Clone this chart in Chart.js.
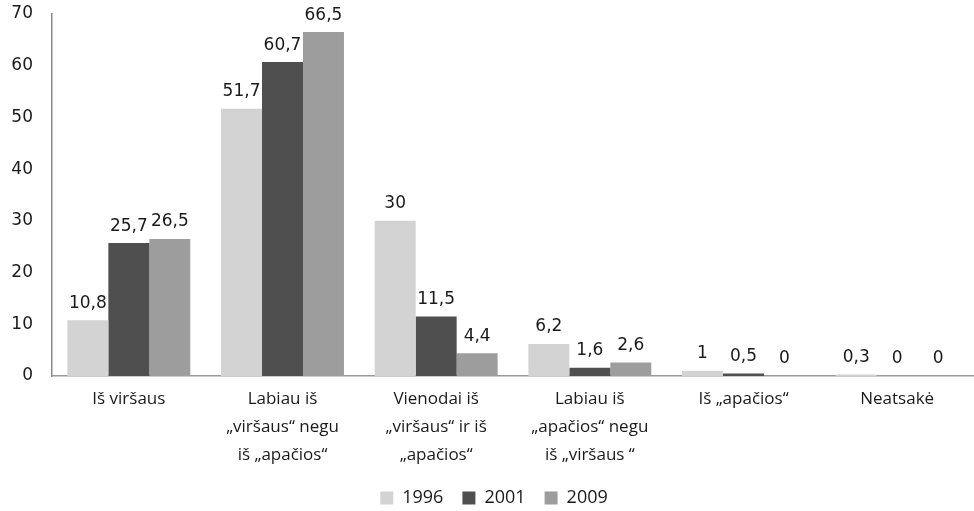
<!DOCTYPE html>
<html>
<head>
<meta charset="utf-8">
<script src="https://cdn.jsdelivr.net/npm/chart.js@4"></script>
<style>
  html, body { margin: 0; padding: 0; background: #fff; }
  #wrap { width: 974px; height: 511px; }
</style>
</head>
<body>
<div id="wrap"><canvas id="c" width="974" height="511"></canvas></div>
<script>
const categories = [
  ["Iš viršaus"],
  ["Labiau iš", "„viršaus“ negu", "iš „apačios“"],
  ["Vienodai iš", "„viršaus“ ir iš", "„apačios“"],
  ["Labiau iš", "„apačios“ negu", "iš „viršaus “"],
  ["Iš „apačios“"],
  ["Neatsakė"]
];
const seriesNames = ["1996", "2001", "2009"];
const values1996 = [10.8, 51.7, 30, 6.2, 1, 0.3];
const values2001 = [25.7, 60.7, 11.5, 1.6, 0.5, 0];
const values2009 = [26.5, 66.5, 4.4, 2.6, 0, 0];
const yTicks = [0, 10, 20, 30, 40, 50, 60, 70];

const colors = ["#d3d3d3", "#4f4f4f", "#9d9d9d"];

const valueLabels = {
  id: 'valueLabels',
  afterDatasetsDraw(chart) {
    const ctx = chart.ctx;
    ctx.save();
    ctx.font = '17px "DejaVu Sans", Verdana, sans-serif';
    ctx.fillStyle = '#1a1a1a';
    ctx.textAlign = 'center';
    ctx.textBaseline = 'middle';
    chart.data.datasets.forEach((ds, di) => {
      const meta = chart.getDatasetMeta(di);
      meta.data.forEach((bar, i) => {
        const v = ds.data[i];
        ctx.fillText(String(v).replace('.', ','), bar.x, bar.y - 17);
      });
    });
    ctx.restore();
  }
};

const legendShift = {
  id: 'legendShift',
  afterLayout(chart) {
    if (chart.legend) { chart.legend.left += 7; chart.legend.right += 7; }
  }
};

new Chart(document.getElementById('c'), {
  type: 'bar',
  data: {
    labels: categories,
    datasets: [
      { label: seriesNames[0], data: values1996, backgroundColor: colors[0] },
      { label: seriesNames[1], data: values2001, backgroundColor: colors[1] },
      { label: seriesNames[2], data: values2009, backgroundColor: colors[2] }
    ]
  },
  options: {
    responsive: false,
    animation: false,
    devicePixelRatio: 1,
    layout: { padding: { left: 0, right: 0, top: 14, bottom: -6 } },
    datasets: { bar: { categoryPercentage: 0.8, barPercentage: 1.0, borderWidth: 0 } },
    scales: {
      x: {
        grid: { display: false, drawTicks: false },
        border: { display: true, color: '#9a9a9a', width: 1.5 },
        afterFit(scale) { scale.height = 94; },
        ticks: {
          padding: 9,
          color: '#1a1a1a',
          font: { family: '"Open Sans"', size: 17, lineHeight: 1.66 },
          maxRotation: 0, autoSkip: false
        }
      },
      y: {
        min: 0, max: 70,
        afterBuildTicks(scale) { scale.ticks = yTicks.map(v => ({ value: v })); },
        afterFit(scale) { scale.width = 52; scale.paddingTop = 0; scale.paddingBottom = 0; },
        grid: { display: false, drawTicks: false },
        border: { display: true, color: '#8a8a8a', width: 1.5 },
        ticks: {
          padding: 19,
          color: '#1a1a1a',
          font: { family: '"DejaVu Sans", Verdana, sans-serif', size: 17 }
        }
      }
    },
    plugins: {
      legend: {
        position: 'bottom',
        labels: {
          boxWidth: 13, boxHeight: 13, padding: 19,
          color: '#1a1a1a',
          font: { family: '"Open Sans"', size: 18 }
        }
      },
      tooltip: { enabled: false }
    }
  },
  plugins: [valueLabels, legendShift]
});
</script>
</body>
</html>
